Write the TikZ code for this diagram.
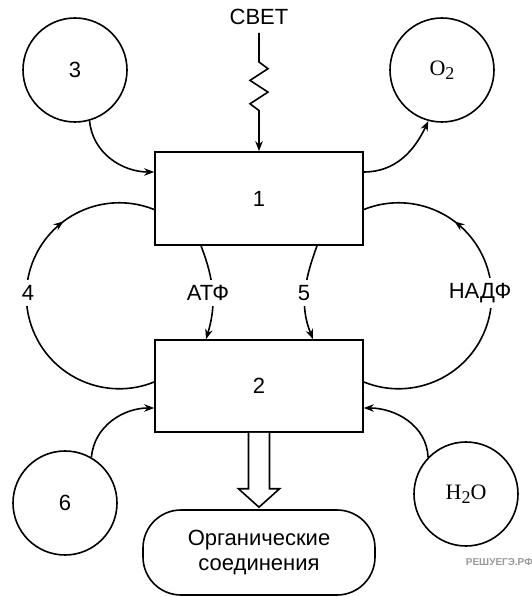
\documentclass[tikz,border=0pt]{standalone}
\usepackage{fontspec}
\setmainfont{Liberation Sans}
\newfontfamily\serifchem{Liberation Serif}
\usetikzlibrary{arrows.meta,calc,decorations.markings}
\begin{document}
\begin{tikzpicture}[x=1pt,y=1pt,
  ln/.style={line width=1.6pt,black},
  tipst/.style={-{Stealth[length=10pt,width=7.5pt]}},
  arr/.style={ln,tipst},
  circ/.style={circle,draw,ln,minimum size=104pt,inner sep=0pt,font=\fontsize{22}{26}\selectfont},
  boxst/.style={rectangle,draw,ln,fill=white,minimum width=208pt,font=\fontsize{22}{26}\selectfont},
  lab/.style={fill=white,inner xsep=1pt,inner ysep=5pt,font=\fontsize{22}{26}\selectfont},
  midarr/.style={ln,postaction={decorate},decoration={markings,mark=at position #1 with {\arrow{Stealth[length=10pt,width=7.5pt]}}}}
]
\useasboundingbox (0,0) rectangle (532,597);

% nodes
\node[circ] (c3) at (75,527) {3};
\node[circ] (cO) at (442,527) {\serifchem O\raisebox{-4pt}{\fontsize{18}{18}\selectfont 2}};
\node[circ] (c6) at (65,94) {6};
\node[circ] (cH) at (466,103) {\serifchem H\raisebox{-4pt}{\fontsize{18}{18}\selectfont 2}O};
\node[boxst,minimum height=93pt] (box1) at (259,398.5) {1};
\node[boxst,minimum height=92pt] (box2) at (259,211) {2};
\node[rectangle,draw,ln,rounded corners=38pt,minimum width=232pt,minimum height=85pt,align=center,font=\fontsize{22}{25}\selectfont] (org) at (259,44.5) {Органические\\соединения};
\node[inner sep=0pt,font=\fontsize{22}{26}\selectfont] (svet) at (259,580) {СВЕТ};
\node[anchor=east,inner sep=0pt,text=black!40,font=\bfseries\fontsize{10}{12}\selectfont] (wm) at (533,35) {РЕШУЕГЭ.РФ};

% light with zigzag
\draw[arr] ([yshift=-8pt]svet.south) -- (259,535) -- ++(9,-6.7) -- ++(-18,-11.7) -- ++(18,-11.7) -- ++(-18,-11.7) -- ++(9,-6.7) -- (box1.north);

% inputs / outputs
\draw[arr] (c3.-74) to[out=-85,in=180] ([yshift=26.5pt]box1.west);
\draw[arr] ([yshift=26.5pt]box1.east) to[out=0,in=245] (cO.-105);
\draw[arr] (c6.60) to[out=85,in=180] ([yshift=-22pt]box2.west);
\draw[arr] (cH.136) to[out=92,in=0] ([yshift=-22pt]box2.east);

% cycles
\draw[midarr=0.737] ([yshift=4pt]box2.west) arc[start angle=-68,end angle=-292,radius=93];
\draw[midarr=0.737] ([yshift=4pt]box2.east) arc[start angle=-112,end angle=112,radius=93];
\draw[arr] ([xshift=-58pt]box1.south) to[out=-69,in=73] ([xshift=-53pt]box2.north);
\draw[arr] ([xshift=58pt]box1.south) to[out=-110,in=112] ([xshift=54pt]box2.north);

% labels on connectors
\node[lab] (l4) at (28,304) {4};
\node[lab] (lnadf) at (480,304) {НАДФ};
\node[lab] (latf) at (208,304) {АТФ};
\node[lab] (l5) at (304,304) {5};

% hollow arrow to organic compounds
\draw[ln,fill=white,line join=miter] ($(box2.south)+(-10.5,0)$) -- ($(box2.south)+(-10.5,-56)$) -- ($(box2.south)+(-20.5,-56)$) -- ($(org.north)+(0,2)$) -- ($(box2.south)+(20.5,-56)$) -- ($(box2.south)+(10.5,-56)$) -- ($(box2.south)+(10.5,0)$);
\end{tikzpicture}
\end{document}
